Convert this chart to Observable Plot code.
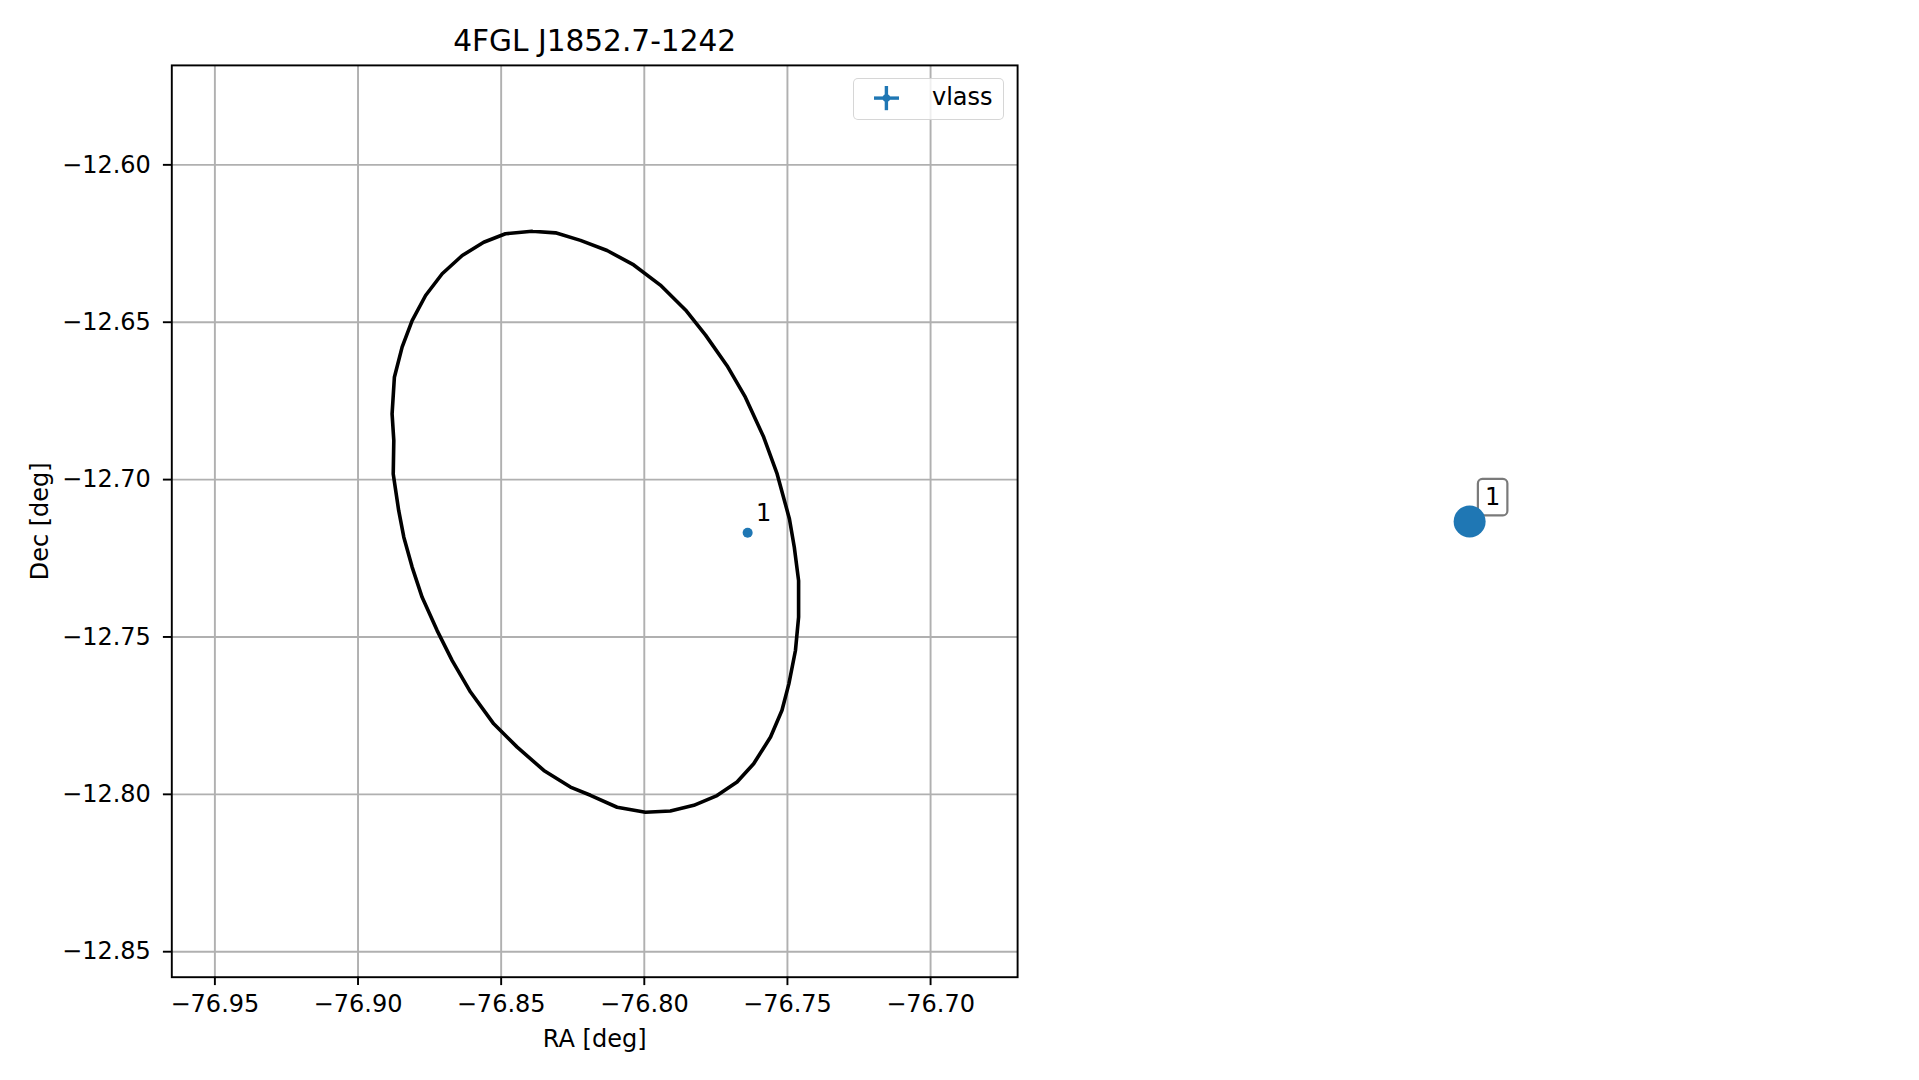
<!DOCTYPE html>
<html>
<head>
<meta charset="utf-8">
<script src="https://cdn.jsdelivr.net/npm/d3@7"></script>
<script src="https://cdn.jsdelivr.net/npm/@observablehq/plot@0.6"></script>
<style>
  html, body { margin: 0; padding: 0; background: #fff; }
  #wrap { position: relative; width: 1919px; height: 1080px; font-family: "DejaVu Sans", sans-serif; }
  #wrap svg { position: absolute; left: 0; top: 0; }
  #legend { position: absolute; left: 853px; top: 78px; width: 149px; height: 39.5px;
    border: 1.9px solid rgba(204,204,204,0.8); border-radius: 5px; background: rgba(255,255,255,0.8); }
  #legend svg { position: absolute; left: 0; top: 0; }
  #legend span { position: absolute; left: 78px; top: 4px; font-size: 24px; line-height: 28px; color: #000; }
</style>
</head>
<body>
<div id="wrap"></div>
<script>
const title = "4FGL J1852.7-1242";
const xLabel = "RA [deg]";
const yLabel = "Dec [deg]";
const xTicks = [-76.95, -76.90, -76.85, -76.80, -76.75, -76.70];
const yTicks = [-12.85, -12.80, -12.75, -12.70, -12.65, -12.60];
const xDomain = [-76.96505, -76.6696];
const yDomain = [-12.8581, -12.5684];

// error ellipse outline
const ellipseRA = [-76.8392,-76.8310,-76.8223,-76.8130,-76.8037,-76.7944,-76.7856,-76.7786,-76.7711,-76.7647,
  -76.7583,-76.7536,-76.7493,-76.7476,-76.7461,-76.7461,-76.7472,-76.7495,-76.7519,-76.7559,
  -76.7618,-76.7676,-76.7746,-76.7827,-76.7909,-76.7996,-76.8095,-76.8188,-76.8258,-76.8351,
  -76.8444,-76.8526,-76.8607,-76.8671,-76.8724,-76.8776,-76.8811,-76.8840,-76.8858,-76.8877,
  -76.8875,-76.8881,-76.8873,-76.8846,-76.8811,-76.8764,-76.8706,-76.8636,-76.8561,-76.8485];
const ellipseDec = [-12.6211,-12.6216,-12.6240,-12.6272,-12.6318,-12.6382,-12.6461,-12.6541,-12.6638,-12.6738,
  -12.6865,-12.6982,-12.7125,-12.7215,-12.7321,-12.7437,-12.7543,-12.7649,-12.7733,-12.7818,
  -12.7903,-12.7961,-12.8004,-12.8035,-12.8053,-12.8057,-12.8041,-12.8003,-12.7977,-12.7924,
  -12.7850,-12.7776,-12.7675,-12.7575,-12.7479,-12.7374,-12.7278,-12.7183,-12.7098,-12.6982,
  -12.6876,-12.6791,-12.6675,-12.6579,-12.6495,-12.6415,-12.6346,-12.6288,-12.6246,-12.6219];

// vlass source
const srcLabels = ["1"];
const srcRA = [-76.7639];
const srcDec = [-12.7169];

// outer marker (drawn outside the axes)
const markLabels = ["1"];
const markRA = [-76.5117];
const markDec = [-12.7133];

const blue = "#1f77b4";
const ellipse = ellipseRA.map((x, i) => ({x, y: ellipseDec[i]}));
ellipse.push(ellipse[0]);
const src = srcRA.map((x, i) => ({x, y: srcDec[i], label: srcLabels[i]}));
const mark = markRA.map((x, i) => ({x, y: markDec[i], label: markLabels[i]}));

const fmt = d3.format(".2f");
const plot = Plot.plot({
  width: 1919, height: 1080,
  marginLeft: 171.3, marginRight: 1919 - 1017.1, marginTop: 64.9, marginBottom: 1080 - 976.7,
  style: {fontFamily: "DejaVu Sans", fontSize: "24px", background: "white", color: "black", overflow: "visible"},
  x: {domain: xDomain, label: null},
  y: {domain: yDomain, label: null},
  marks: [
    Plot.gridX(xTicks, {stroke: "#b0b0b0", strokeOpacity: 1, strokeWidth: 1.92}),
    Plot.gridY(yTicks, {stroke: "#b0b0b0", strokeOpacity: 1, strokeWidth: 1.92}),
    Plot.axisX(xTicks, {tickSize: 8.4, tickPadding: 9.5, tickFormat: fmt, strokeWidth: 1.92, fontSize: 24, label: null}),
    Plot.axisY(yTicks, {tickSize: 8.4, tickPadding: 12.5, tickFormat: fmt, strokeWidth: 1.92, fontSize: 24, label: null}),
    Plot.line(ellipse, {x: "x", y: "y", stroke: "black", strokeWidth: 3.6, curve: "linear"}),
    Plot.dot(src, {x: "x", y: "y", r: 5, fill: blue}),
    Plot.text(src, {x: "x", y: "y", text: "label", dx: 16, dy: -19, fontSize: 24, fill: "black"}),
    Plot.text(mark, {x: "x", y: "y", text: "label", dx: 23, dy: -24, fontSize: 24, fill: "black", ariaDescription: "boxlabel"}),
    Plot.dot(mark, {x: "x", y: "y", r: 16, fill: blue}),
    Plot.frame({stroke: "black", strokeWidth: 1.92}),
    Plot.text([title], {frameAnchor: "top", dy: -14.4, lineAnchor: "bottom", fontSize: 29.6, fill: "black"}),
    Plot.text([xLabel], {frameAnchor: "bottom", dy: 70, lineAnchor: "bottom", textAnchor: "middle", fontSize: 24, fill: "black"}),
    Plot.text([yLabel], {frameAnchor: "left", dx: -124.3, rotate: -90, lineAnchor: "bottom", textAnchor: "middle", fontSize: 24, fill: "black"})
  ]
});
const wrap = document.getElementById("wrap");
wrap.appendChild(plot);

// rounded box behind the outer label
d3.select(plot).selectAll('g[aria-description="boxlabel"] text').each(function () {
  const bb = this.getBBox();
  const g = this.parentNode;
  const tr = this.getAttribute("transform");
  const cx = bb.x + bb.width / 2, cy = bb.y + bb.height / 2;
  const w = 29.5, h = 36.5;
  const r = document.createElementNS("http://www.w3.org/2000/svg", "rect");
  r.setAttribute("x", cx - w / 2); r.setAttribute("y", cy - h / 2);
  r.setAttribute("width", w); r.setAttribute("height", h);
  r.setAttribute("rx", 4.5); r.setAttribute("fill", "white");
  r.setAttribute("stroke", "#7a7a7a"); r.setAttribute("stroke-width", 2.2);
  if (tr) r.setAttribute("transform", tr);
  g.insertBefore(r, this);
});

// legend
const leg = document.createElement("div");
leg.id = "legend";
leg.innerHTML = `<svg width="149" height="40">
  <line x1="20" x2="45" y1="19.1" y2="19.1" stroke="${blue}" stroke-width="3.4"/>
  <line x1="32.4" x2="32.4" y1="7" y2="31.2" stroke="${blue}" stroke-width="3.4"/>
  <circle cx="32.4" cy="19.1" r="3.8" fill="${blue}"/>
</svg><span>vlass</span>`;
wrap.appendChild(leg);
</script>
</body>
</html>
